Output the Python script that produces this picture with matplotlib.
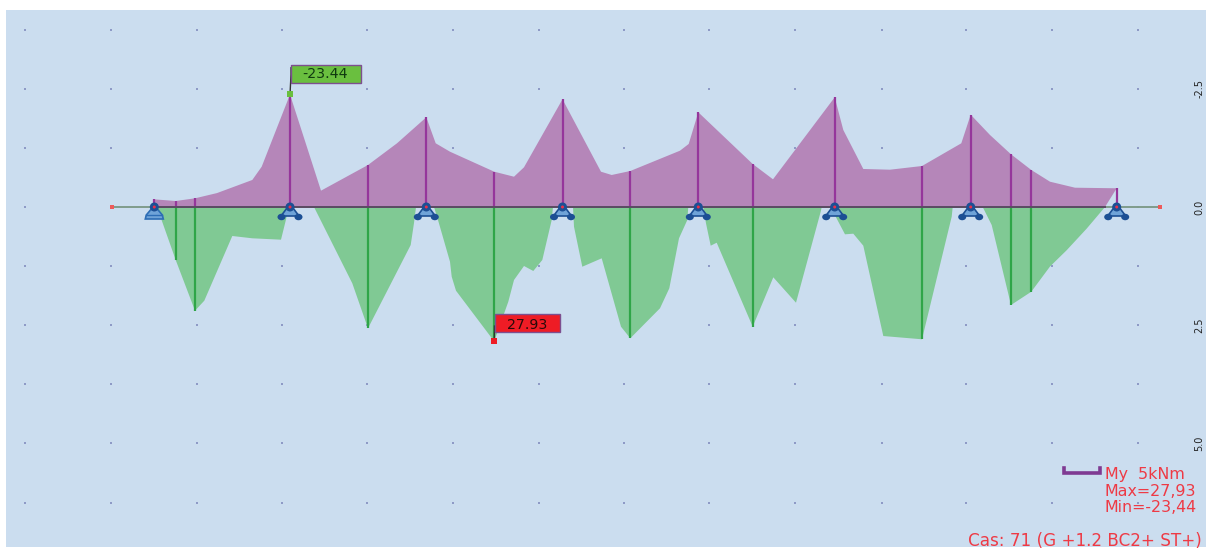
import matplotlib
matplotlib.use("Agg")
import matplotlib.pyplot as plt
from matplotlib.patches import Rectangle, Polygon, Ellipse

plt.rcParams['font.family'] = ['DejaVu Sans']

# Bending moment My (kNm) along the beam; x is the station along the drawing
hog_x = [154, 154, 175.7, 195, 217, 252.3, 261.7, 290, 321, 368, 397, 426.3, 435.7, 450, 494.3, 514, 524,
         562.5, 601, 611.7, 630.3, 680, 688.7, 698.3, 752.7, 773, 834.7, 843.3, 863.3, 890, 922,
         961.3, 970.7, 990, 1011, 1031.3, 1050, 1075, 1116.7, 1105]
hog_m = [0, -1.60, -1.25, -1.81, -2.90, -5.63, -8.40, -23.44, -3.40, -8.75, -13.27, -18.69, -13.27, -11.52,
         -7.35, -6.31, -8.27, -22.44, -7.35, -6.67, -7.50, -11.73, -13.13, -19.73, -8.96, -5.77,
         -22.85, -16.04, -7.92, -7.77, -8.54, -13.27, -19.23, -15.0, -10.98, -7.71, -5.27, -4.02, -3.90, 0]

sag_x = [157, 175.7, 195, 204.3, 232.3, 252.3, 281, 286, 288.5,
         314, 352.3, 368, 410.7, 414, 416,
         434, 438, 450, 451.7, 456, 491.7, 494.3, 508.3, 514, 524, 533.3, 542.3, 551.7, 553,
         573, 574, 582.3, 601.7, 621, 630.3, 660, 669.3, 679, 687.3, 688.3,
         703.3, 706, 710.7, 716.7, 752.7, 773.3, 796, 820.7, 821.7,
         833, 835.7, 845, 853.3, 863.3, 883.3, 922, 951.7, 952.7,
         982.7, 991.7, 1011, 1031.3, 1050, 1066.7, 1086.7, 1105]
sag_m = [0, 11.04, 21.60, 19.52, 6.04, 6.52, 6.81, 2.60, 0,
         0, 15.90, 25.27, 7.92, 3.33, 0,
         0, 2.71, 11.40, 14.52, 17.44, 27.30, 27.93, 19.73, 15.21, 12.29, 13.33, 11.04, 2.71, 0,
         0, 4.10, 12.44, 10.69, 24.94, 27.35, 21.10, 16.94, 6.52, 2.71, 0,
         0, 3.40, 8.06, 7.44, 24.94, 14.65, 19.94, 0.98, 0,
         0, 2.02, 5.69, 5.56, 8.06, 26.88, 27.56, 2.02, 0,
         0, 3.75, 20.42, 17.65, 12.40, 9.0, 4.5, 0]

ord_hog_x = [154, 175.7, 195, 290, 368, 426.3, 494.3, 562.5, 630.3, 698.3, 752.7, 834.7, 922, 970.7, 1011, 1031.3, 1116.7]
ord_hog_m = [-1.60, -1.25, -1.81, -23.44, -8.75, -18.69, -7.35, -22.44, -7.50, -19.73, -8.96, -22.85, -8.54, -19.23, -10.98, -7.71, -3.90]
ord_sag_x = [175.7, 195, 368, 494.3, 630.3, 752.7, 922, 1011, 1031.3]
ord_sag_m = [11.04, 21.60, 25.27, 27.93, 27.35, 24.94, 27.56, 20.42, 17.65]

support_x = [154.3, 290, 426.3, 562.5, 698.3, 834.7, 970.7, 1116.7]
grid_x = [25, 110.7, 197, 282, 367.3, 452.7, 539, 624, 709.3, 795, 881.7, 966.3, 1051.7, 1138.3]
grid_y = [-36.9, -24.6, -12.3, 0, 12.3, 24.6, 36.9, 49.2, 61.6]
side_y = [-24.6, 0, 24.6, 49.2]
side_labels = ['-2.5', '0.0', '2.5', '5.0']
min_label, max_label = '-23.44', '27.93'
legend_lines = ['My  5kNm', 'Max=27,93', 'Min=-23,44']
case_label = 'Cas: 71 (G +1.2 BC2+ ST+)'

PX = 1 / 4.8  # kNm per pixel of height
PURPLE, GREEN = '#95369b', '#2fa548'
RED = '#ee3a45'

fig = plt.figure(figsize=(12.06, 5.49), dpi=100, facecolor='white')
ax = fig.add_axes([0, 0, 1, 1])
ax.set_xlim(0, 1206)
ax.set_ylim(71.25, -43.125)
ax.axis('off')

ax.add_patch(Rectangle((6, -197 * PX), 1200, 537 * PX, fc='#cbddef', ec='none', zorder=0))

gx = [x for x in grid_x for _ in grid_y]
gy = [y for _ in grid_x for y in grid_y]
ax.scatter(gx, gy, s=2.2, c='#8e9ac6', marker='s', linewidths=0, zorder=1)

ax.fill(hog_x, hog_m, fc='#b586b9', ec='none', zorder=2)
ax.fill(sag_x, sag_m, fc='#80c994', ec='none', zorder=2)
ax.vlines(ord_hog_x, ord_hog_m, 0, colors=PURPLE, lw=1.6, zorder=3)
ax.vlines(ord_sag_x, 0, ord_sag_m, colors=GREEN, lw=1.6, zorder=3)

# beam axis
ax.plot([111, 1160], [0, 0], color='#7f9c8c', lw=1.4, zorder=3)
ax.plot([154, 1105], [0, 0], color='#5b4a63', lw=1.4, zorder=3)
ax.scatter([111.5, 1160], [0, 0], s=6, c='#ee5a5a', marker='s', linewidths=0, zorder=4)


# supports, sized in pixels around each station
def support(x, fixed):
    blue, dark = '#6fa3d8', '#1c4f94'
    if fixed:
        ax.add_patch(Polygon([(x - 3, 2 * PX), (x + 3, 2 * PX), (x + 8, 8 * PX), (x + 9, 12 * PX),
                              (x - 9, 12 * PX), (x - 8, 8 * PX)],
                             fc=blue, ec='#2d6db5', lw=1.2, zorder=5))
        ax.plot([x - 8, x + 8], [8 * PX, 8 * PX], color='#2d6db5', lw=1, zorder=6)
    else:
        ax.add_patch(Polygon([(x - 3, 1 * PX), (x + 3, 1 * PX), (x + 9, 9 * PX), (x - 9, 9 * PX)],
                             fc=blue, ec=dark, lw=1.2, zorder=5))
        for s in (-1, 1):
            ax.add_patch(Ellipse((x + s * 8.5, 10 * PX), 8, 6.5 * PX, fc=dark, ec='none', zorder=6))
    ax.add_patch(Ellipse((x, 0), 9, 9 * PX, fc='#1c4f94', ec='none', zorder=6))
    ax.add_patch(Ellipse((x, 0), 3, 3 * PX, fc='#e8304a', ec='none', zorder=7))


for i, sx in enumerate(support_x):
    support(sx, i == 0)

# extreme value flags
ax.plot([290, 291, 291], [-23.44, -27.6, -29], color='#333333', lw=1, zorder=8)
ax.scatter([290], [-23.44], s=22, c='#6abf3f', marker='s', linewidths=0, zorder=9)
ax.add_patch(Rectangle((291, -142 * PX), 69.5, 17.5 * PX, fc='#6abf3f', ec='#7d4f8f', lw=1, zorder=9))
ax.text(325.5, -27.8, min_label, fontsize=10.2, color='#103a10', ha='center', va='center', zorder=10)

ax.plot([494.3, 494.5], [27.93, 24.8], color='#333333', lw=1, zorder=8)
ax.scatter([494.3], [27.93], s=22, c='#ee1c25', marker='s', linewidths=0, zorder=9)
ax.add_patch(Rectangle((494.5, 106.5 * PX), 65.5, 18 * PX, fc='#ee1c25', ec='#7d4f8f', lw=1, zorder=9))
ax.text(527, 24.6, max_label, fontsize=10.2, color='#2a0a0a', ha='center', va='center', zorder=10)

# scale bar and legend
ax.plot([1063.5, 1063.5, 1100, 1100], [54.4, 55.5, 55.5, 54.4], color='#7f3a92', lw=2.6,
        solid_joinstyle='miter', zorder=5)
for txt, py in zip(legend_lines, [474, 491, 508]):
    ax.text(1105, (py - 207) * PX, txt, fontsize=11.4, color=RED, ha='left', va='center', zorder=5)
ax.text(1202, (540.5 - 207) * PX, case_label, fontsize=12.1, color=RED, ha='right', va='center', zorder=5)

# small rotated labels along the right edge of the window
for y, lab in zip(side_y, side_labels):
    ax.text(1199.5, y, lab, fontsize=7, color='#222222', rotation=90, ha='center', va='center', zorder=5)

fig.savefig('out.png', dpi=100, facecolor='white')
